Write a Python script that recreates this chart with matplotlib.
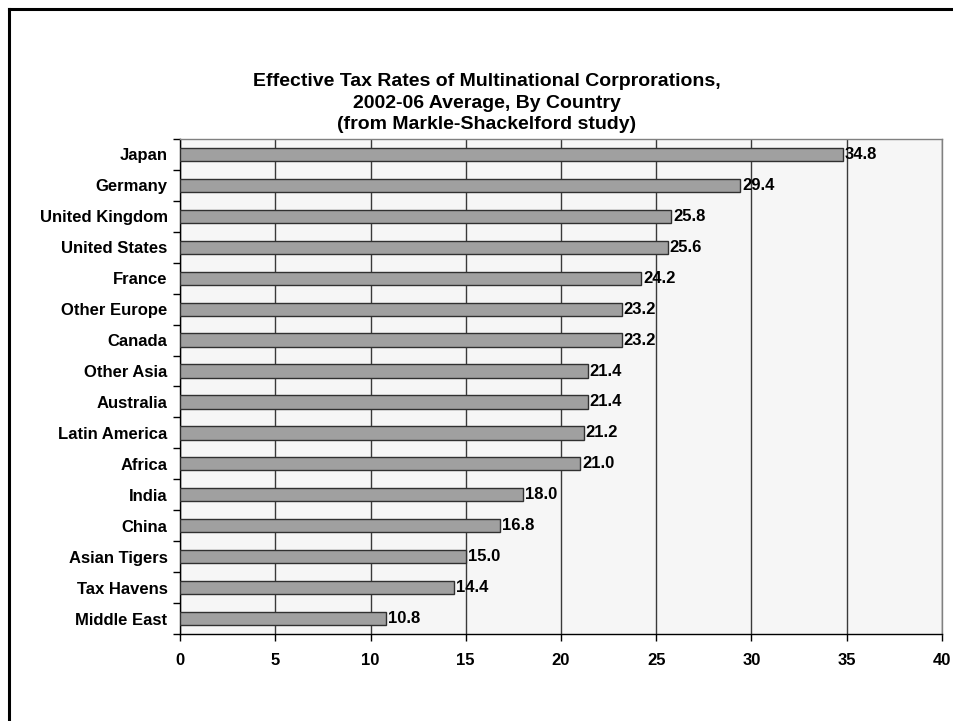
import matplotlib
matplotlib.use("Agg")
import matplotlib.pyplot as plt
from matplotlib.lines import Line2D
import numpy as np

plt.rcParams['font.family'] = ['Liberation Sans', 'DejaVu Sans']

countries = ["Japan", "Germany", "United Kingdom", "United States", "France",
             "Other Europe", "Canada", "Other Asia", "Australia", "Latin America",
             "Africa", "India", "China", "Asian Tigers", "Tax Havens", "Middle East"]
rates = [34.8, 29.4, 25.8, 25.6, 24.2, 23.2, 23.2, 21.4, 21.4, 21.2,
         21.0, 18.0, 16.8, 15.0, 14.4, 10.8]
x_ticks = [0, 5, 10, 15, 20, 25, 30, 35, 40]
title = ("Effective Tax Rates of Multinational Corprorations,\n"
         "2002-06 Average, By Country\n"
         "(from Markle-Shackelford study)")

W, H = 954, 721
fig = plt.figure(figsize=(W / 100, H / 100), dpi=100)
fig.patch.set_facecolor("white")

ax_l, ax_r, ax_t, ax_b = 180, 942, 139, 634
ax = fig.add_axes([ax_l / W, (H - ax_b) / H, (ax_r - ax_l) / W, (ax_b - ax_t) / H])
ax.set_facecolor("#f6f6f6")

FS = 12

y = np.arange(len(countries))
ax.barh(y, rates, height=0.43, color="#a0a0a0", edgecolor="#303030",
        linewidth=1.0, zorder=3)

for yi, v in zip(y, rates):
    ax.text(v + 0.1, yi, f"{v:.1f}", va="center", ha="left",
            fontsize=FS, fontweight="bold", color="black", zorder=4)

ax.set_xlim(0, 40)
ax.set_ylim(len(countries) - 0.5, -0.5)
ax.set_xticks(x_ticks)
ax.set_xticklabels([str(t) for t in x_ticks], fontsize=FS, fontweight="bold")
ax.set_yticks(y)
ax.set_yticklabels(countries, fontsize=FS, fontweight="bold")
ax.set_yticks(np.arange(len(countries) + 1) - 0.5, minor=True)
ax.tick_params(axis="y", which="major", length=0, pad=9)
ax.tick_params(axis="y", which="minor", length=5, width=1, color="black", direction="out")
ax.tick_params(axis="x", which="major", length=5, width=1, color="black",
               direction="out", pad=9)

ax.grid(axis="x", color="#3a3a3a", linewidth=1.0, zorder=1)
ax.set_axisbelow(True)

for side in ("top", "right"):
    ax.spines[side].set_color("#808080")
    ax.spines[side].set_linewidth(1.0)
for side in ("left", "bottom"):
    ax.spines[side].set_color("black")
    ax.spines[side].set_linewidth(1.0)

fig.text(487 / W, 1 - 73 / H, title, ha="center", va="top", fontsize=14,
         fontweight="bold", linespacing=1.36)

# chart frame, running off the right and bottom edges
fig.add_artist(Line2D([9 / W, 9 / W], [1 - 9 / H, -0.02], transform=fig.transFigure,
                      color="black", linewidth=2.2))
fig.add_artist(Line2D([9 / W, 1.02], [1 - 9 / H, 1 - 9 / H], transform=fig.transFigure,
                      color="black", linewidth=2.2))

fig.savefig("out.png", dpi=100)
